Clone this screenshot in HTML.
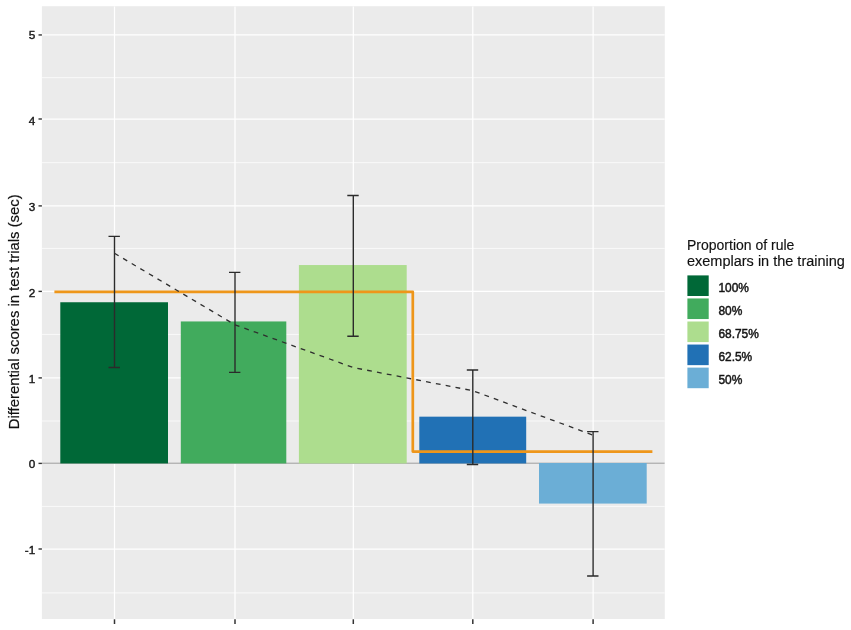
<!DOCTYPE html>
<html lang="en"><head><meta charset="utf-8"><title>Differential scores in test trials</title>
<style>html,body{margin:0;padding:0;background:#fff}body{width:851px;height:630px;overflow:hidden}svg{display:block}text{font-family:"Liberation Sans",Arial,sans-serif}</style></head><body>
<svg width="851" height="630" viewBox="0 0 851 630">
<rect width="851" height="630" fill="#fff"/>
<rect x="41.9" y="6.2" width="622.9" height="612.8" fill="#EBEBEB"/>
<clipPath id="p"><rect x="41.9" y="6.2" width="622.9" height="612.8"/></clipPath>
<g clip-path="url(#p)">
<line x1="41.9" x2="664.8" y1="77.7" y2="77.7" stroke="#fff" stroke-width="0.75"/>
<line x1="41.9" x2="664.8" y1="162.7" y2="162.7" stroke="#fff" stroke-width="0.75"/>
<line x1="41.9" x2="664.8" y1="248.4" y2="248.4" stroke="#fff" stroke-width="0.75"/>
<line x1="41.9" x2="664.8" y1="334.4" y2="334.4" stroke="#fff" stroke-width="0.75"/>
<line x1="41.9" x2="664.8" y1="421.0" y2="421.0" stroke="#fff" stroke-width="0.75"/>
<line x1="41.9" x2="664.8" y1="506.4" y2="506.4" stroke="#fff" stroke-width="0.75"/>
<line x1="41.9" x2="664.8" y1="592.9" y2="592.9" stroke="#fff" stroke-width="0.75"/>
<line x1="41.9" x2="664.8" y1="34.95" y2="34.95" stroke="#fff" stroke-width="1.25"/>
<line x1="41.9" x2="664.8" y1="119.0" y2="119.0" stroke="#fff" stroke-width="1.25"/>
<line x1="41.9" x2="664.8" y1="205.9" y2="205.9" stroke="#fff" stroke-width="1.25"/>
<line x1="41.9" x2="664.8" y1="291.4" y2="291.4" stroke="#fff" stroke-width="1.25"/>
<line x1="41.9" x2="664.8" y1="377.9" y2="377.9" stroke="#fff" stroke-width="1.25"/>
<line x1="41.9" x2="664.8" y1="463.4" y2="463.4" stroke="#fff" stroke-width="1.25"/>
<line x1="41.9" x2="664.8" y1="549.0" y2="549.0" stroke="#fff" stroke-width="1.25"/>
<line x1="114.5" x2="114.5" y1="6.2" y2="619.0" stroke="#fff" stroke-width="1.25"/>
<line x1="235.0" x2="235.0" y1="6.2" y2="619.0" stroke="#fff" stroke-width="1.25"/>
<line x1="353.3" x2="353.3" y1="6.2" y2="619.0" stroke="#fff" stroke-width="1.25"/>
<line x1="472.8" x2="472.8" y1="6.2" y2="619.0" stroke="#fff" stroke-width="1.25"/>
<line x1="593.1" x2="593.1" y1="6.2" y2="619.0" stroke="#fff" stroke-width="1.25"/>
<line x1="41.9" x2="664.8" y1="463.2" y2="463.2" stroke="#949494" stroke-width="1"/>
<rect x="60.3" y="302.25" width="107.7" height="161.20" fill="#006837"/>
<rect x="180.8" y="321.45" width="105.5" height="142.00" fill="#41AB5D"/>
<rect x="298.9" y="265.05" width="107.8" height="198.40" fill="#ADDD8E"/>
<rect x="419.3" y="416.67" width="106.9" height="46.78" fill="#2171B5"/>
<rect x="539.0" y="463.00" width="107.7" height="40.58" fill="#6BAED6"/>
<polyline points="54.4,291.88 412.8,291.88 412.8,451.60 652.4,451.60" fill="none" stroke="#EE961A" stroke-width="2.7" stroke-linejoin="round"/>
<path d="M108.5,236.34H119.9M108.5,367.48H119.9M114.5,236.34V367.48" fill="none" stroke="#2b2b2b" stroke-width="1.4"/>
<path d="M229.0,272.34H240.4M229.0,372.36H240.4M235.0,272.34V372.36" fill="none" stroke="#2b2b2b" stroke-width="1.4"/>
<path d="M347.3,195.54H358.7M347.3,336.19H358.7M353.3,195.54V336.19" fill="none" stroke="#2b2b2b" stroke-width="1.4"/>
<path d="M466.8,369.96H478.2M466.8,464.50H478.2M472.8,369.96V464.50" fill="none" stroke="#2b2b2b" stroke-width="1.4"/>
<path d="M587.1,431.67H598.5M587.1,576.01H598.5M593.1,431.67V576.01" fill="none" stroke="#2b2b2b" stroke-width="1.4"/>
<polyline points="114.5,253.31 235.0,324.79 353.3,367.56 472.8,390.70 593.1,435.19" fill="none" stroke="#2e2e2e" stroke-width="1.3" stroke-dasharray="4.8,5.2"/>
</g>
<line x1="38.5" x2="41.9" y1="34.95" y2="34.95" stroke="#333" stroke-width="1.4"/>
<text x="35.2" y="39.35" font-size="11.73" text-anchor="end" fill="#161616" stroke="#161616" stroke-width="0.4">5</text>
<line x1="38.5" x2="41.9" y1="119.0" y2="119.0" stroke="#333" stroke-width="1.4"/>
<text x="35.2" y="124.70" font-size="11.73" text-anchor="end" fill="#161616" stroke="#161616" stroke-width="0.4">4</text>
<line x1="38.5" x2="41.9" y1="205.9" y2="205.9" stroke="#333" stroke-width="1.4"/>
<text x="35.2" y="210.50" font-size="11.73" text-anchor="end" fill="#161616" stroke="#161616" stroke-width="0.4">3</text>
<line x1="38.5" x2="41.9" y1="291.4" y2="291.4" stroke="#333" stroke-width="1.4"/>
<text x="35.2" y="297.10" font-size="11.73" text-anchor="end" fill="#161616" stroke="#161616" stroke-width="0.4">2</text>
<line x1="38.5" x2="41.9" y1="377.9" y2="377.9" stroke="#333" stroke-width="1.4"/>
<text x="35.2" y="382.80" font-size="11.73" text-anchor="end" fill="#161616" stroke="#161616" stroke-width="0.4">1</text>
<line x1="38.5" x2="41.9" y1="463.4" y2="463.4" stroke="#333" stroke-width="1.4"/>
<text x="35.2" y="468.00" font-size="11.73" text-anchor="end" fill="#161616" stroke="#161616" stroke-width="0.4">0</text>
<line x1="38.5" x2="41.9" y1="549.0" y2="549.0" stroke="#333" stroke-width="1.4"/>
<text x="35.2" y="554.20" font-size="11.73" text-anchor="end" fill="#161616" stroke="#161616" stroke-width="0.4">-1</text>
<line x1="114.5" x2="114.5" y1="619.3" y2="624.0" stroke="#333" stroke-width="1.5"/>
<line x1="235.0" x2="235.0" y1="619.3" y2="624.0" stroke="#333" stroke-width="1.5"/>
<line x1="353.3" x2="353.3" y1="619.3" y2="624.0" stroke="#333" stroke-width="1.5"/>
<line x1="472.8" x2="472.8" y1="619.3" y2="624.0" stroke="#333" stroke-width="1.5"/>
<line x1="593.1" x2="593.1" y1="619.3" y2="624.0" stroke="#333" stroke-width="1.5"/>
<text transform="translate(18.9,429.3) rotate(-90)" font-size="15" textLength="235" lengthAdjust="spacingAndGlyphs" fill="#111" stroke="#111" stroke-width="0.2">Differential scores in test trials (sec)</text>
<text x="687" y="250.1" font-size="14.67" textLength="107.4" lengthAdjust="spacingAndGlyphs" fill="#111" stroke="#111" stroke-width="0.15">Proportion of rule</text>
<text x="687" y="265.9" font-size="14.67" textLength="157.9" lengthAdjust="spacingAndGlyphs" fill="#111" stroke="#111" stroke-width="0.15">exemplars in the training</text>
<rect x="687.4" y="275.40" width="21.3" height="20.6" fill="#006837"/>
<text x="718.4" y="292.10" font-size="11.95" fill="#141414" stroke="#141414" stroke-width="0.45">100%</text>
<rect x="687.4" y="298.45" width="21.3" height="20.6" fill="#41AB5D"/>
<text x="718.4" y="315.15" font-size="11.95" fill="#141414" stroke="#141414" stroke-width="0.45">80%</text>
<rect x="687.4" y="321.50" width="21.3" height="20.6" fill="#ADDD8E"/>
<text x="718.4" y="338.20" font-size="11.95" fill="#141414" stroke="#141414" stroke-width="0.45">68.75%</text>
<rect x="687.4" y="344.55" width="21.3" height="20.6" fill="#2171B5"/>
<text x="718.4" y="361.25" font-size="11.95" fill="#141414" stroke="#141414" stroke-width="0.45">62.5%</text>
<rect x="687.4" y="367.60" width="21.3" height="20.6" fill="#6BAED6"/>
<text x="718.4" y="384.30" font-size="11.95" fill="#141414" stroke="#141414" stroke-width="0.45">50%</text>
</svg></body></html>
